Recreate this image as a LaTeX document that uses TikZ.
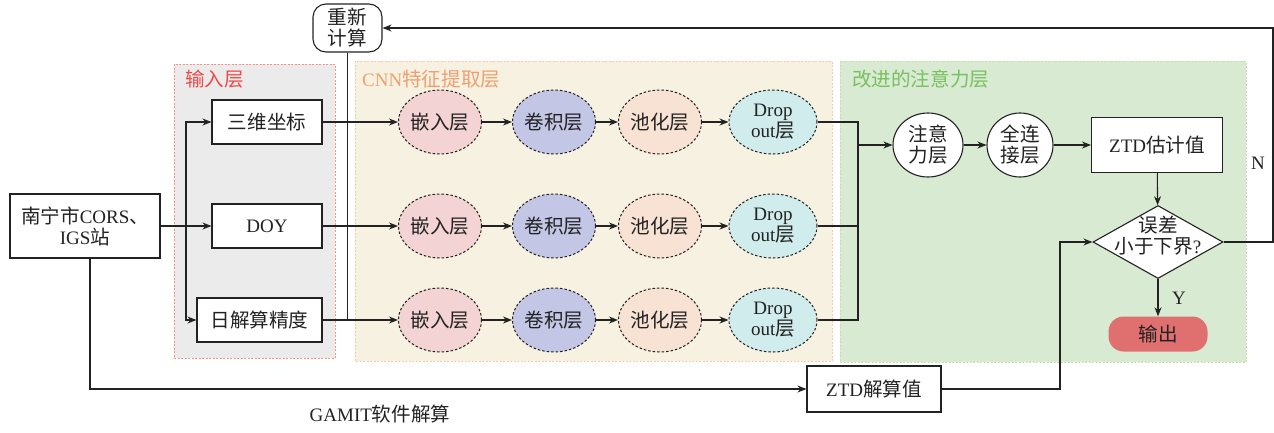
\documentclass[tikz,border=0pt]{standalone}
\usepackage{fontspec}
\setmainfont{Liberation Serif}
\newfontfamily\cjk{Noto Sans CJK SC}[Scale=1.03]
\newcommand\zh[1]{{\cjk #1}}
\usetikzlibrary{shapes.geometric,arrows.meta}
\definecolor{inbg}{HTML}{EBEBEB}
\definecolor{inbd}{HTML}{F4928A}
\definecolor{inred}{HTML}{F04848}
\definecolor{cnnbg}{HTML}{F6F1E1}
\definecolor{cnnbd}{HTML}{F8C8A8}
\definecolor{cnnor}{HTML}{F0A070}
\definecolor{attbg}{HTML}{D8EAD2}
\definecolor{attbd}{HTML}{C4E0B0}
\definecolor{attgr}{HTML}{78C060}
\definecolor{embc}{HTML}{F3D3D3}
\definecolor{convc}{HTML}{C4C6E6}
\definecolor{poolc}{HTML}{F8E2D4}
\definecolor{dropc}{HTML}{D1ECEC}
\definecolor{outc}{HTML}{E07070}
\definecolor{ink}{HTML}{222222}
\begin{document}
\begin{tikzpicture}[x=1pt,y=-1pt,
  font=\fontsize{19}{21}\selectfont,
  ln/.style={line width=1.1pt, draw=ink},
  arr/.style={ln, -{Stealth[length=9pt,width=7pt]}},
  box/.style={draw=ink, line width=1.1pt, fill=white, inner sep=0pt, align=center, text=ink},
  ell/.style={ellipse, draw=ink, line width=1pt, dash pattern=on 2.5pt off 2pt, minimum width=83pt, minimum height=64pt, inner sep=0pt, align=center, text=ink},
  rnd/.style={ellipse, draw=ink, line width=1.1pt, fill=white, minimum width=70pt, minimum height=64pt, inner sep=0pt, align=center, text=ink},
  panel/.style={dash pattern=on 2pt off 1.5pt, line width=0.9pt},
  lab/.style={inner sep=0pt, text=ink}
]
\useasboundingbox (0,0) rectangle (1274,432);
% panels
\filldraw[fill=inbg, draw=inbd, panel] (174,64) rectangle (335,358);
\filldraw[fill=cnnbg, draw=cnnbd, panel] (355,61) rectangle (832,361);
\filldraw[fill=attbg, draw=attbd, panel] (840,61) rectangle (1246,362);
\node[anchor=west, text=inred, inner sep=0pt] (inlab) at (185,79) {\zh{输入层}};
\node[anchor=west, text=cnnor, inner sep=0pt] (cnnlab) at (362,79) {CNN\zh{特征提取层}};
\node[anchor=west, text=attgr, inner sep=0pt] (attlab) at (852,79) {\zh{改进的注意力层}};
% input nodes
\node[box, minimum width=150pt, minimum height=64pt] (src) at (85,226) {\zh{南宁市}CORS\zh{、}\\IGS\zh{站}};
\node[box, minimum width=110pt, minimum height=44pt] (xyz) at (267,122) {\zh{三维坐标}};
\node[box, minimum width=110pt, minimum height=44pt] (doy) at (267,226) {DOY};
\node[box, minimum width=125pt, minimum height=44pt] (acc) at (259.5,320) {\zh{日解算精度}};
\node[box, rounded corners=13pt, minimum width=69pt, minimum height=48pt] (rc) at (347.5,28) {\zh{重新}\\\zh{计算}};
% CNN rows
\foreach \r/\y in {1/122,2/226,3/320} {
  \node[ell, fill=embc] (e\r) at (440,\y) {\zh{嵌入层}};
  \node[ell, fill=convc] (c\r) at (554,\y) {\zh{卷积层}};
  \node[ell, fill=poolc] (p\r) at (660,\y) {\zh{池化层}};
  \node[ell, fill=dropc, minimum width=88pt] (d\r) at (773,\y) {Drop\\out\zh{层}};
  \draw[arr] (e\r) -- (c\r);
  \draw[arr] (c\r) -- (p\r);
  \draw[arr] (p\r) -- (d\r);
}
% input connections
\coordinate (sp) at (186,226);
\draw[arr] (src.east) -- (doy.west);
\draw[arr] (sp) |- (xyz.west);
\draw[arr] (sp) |- (acc.west);
\draw[arr] (xyz.east) -- (e1.west);
\draw[arr] (doy.east) -- (e2.west);
\draw[arr] (acc.east) -- (e3.west);
\draw[ln] (rc.south) -- (rc.south |- acc.east);
% attention part
\node[rnd] (att) at (928,145) {\zh{注意}\\\zh{力层}};
\node[rnd, minimum width=66pt] (fc) at (1020,145) {\zh{全连}\\\zh{接层}};
\node[box, minimum width=131pt, minimum height=55pt] (est) at (1157,145) {ZTD\zh{估计值}};
\node[diamond, draw=ink, line width=1.1pt, fill=white, minimum width=130pt, minimum height=73pt, inner sep=0pt] (dec) at (1158,242) {};
\node[lab, align=center] (dect) at (1158,236) {\zh{误差}\\\zh{小于下界}?};
\node[fill=outc, rounded corners=15pt, minimum width=99pt, minimum height=35pt, inner sep=0pt, text=ink] (out) at (1158,334) {\zh{输出}};
\coordinate (mg) at (858,145);
\draw[ln] (d1.east) -| (mg |- d3.east) -- (d3.east);
\draw[ln] (d2.east) -- (d2.east -| mg);
\draw[arr] (mg) -- (att.west);
\draw[arr] (att) -- (fc);
\draw[arr] (fc) -- (est);
\draw[arr] (est) -- (dec);
\draw[arr] (dec.south) -- (out.north);
\node[lab] (ylab) at (1179,298) {Y};
\coordinate (nc) at (1273,28);
\draw[arr] (dec.east) -| (nc) -- (rc.east);
\node[lab] (nlab) at (1258,163) {N};
% GAMIT branch
\node[box, minimum width=134pt, minimum height=46pt] (ztdc) at (874,389) {ZTD\zh{解算值}};
\coordinate (gb) at (90,389);
\draw[arr] (gb |- src.south) -- (gb) -- (ztdc.west);
\node[lab] (gamit) at (380,414) {GAMIT\zh{软件解算}};
\coordinate (zc) at (1060,389);
\draw[arr] (ztdc.east) -- (zc) |- (dec.west);
\end{tikzpicture}
\end{document}
